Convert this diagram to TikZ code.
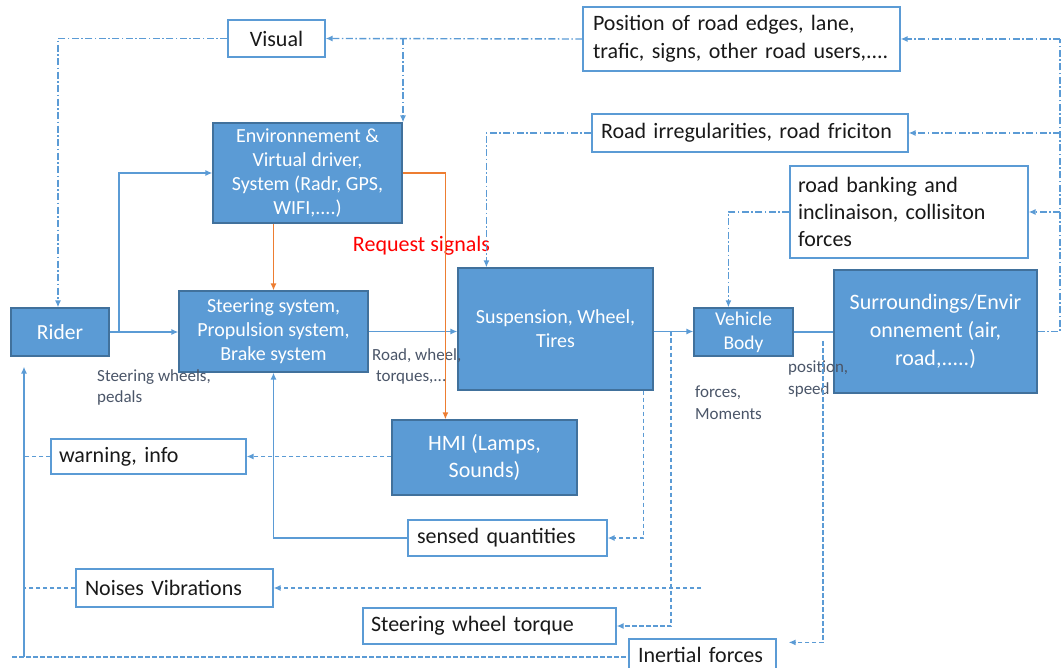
\documentclass[tikz,border=0pt]{standalone}
\usepackage{fontspec}
\setmainfont{Carlito}
\usetikzlibrary{arrows.meta,calc}
\definecolor{lb}{HTML}{5B9BD5}
\definecolor{db}{HTML}{41719C}
\definecolor{org}{HTML}{ED7D31}
\definecolor{gr}{HTML}{4A5568}
\newcommand\fW{\fontsize{22}{28}\selectfont}
\newcommand\fB{\fontsize{20}{24}\selectfont}
\newcommand\fS{\fontsize{17}{21.5}\selectfont}
\begin{document}
\begin{tikzpicture}[x=1pt,y=-1pt,
  bbox/.style={rectangle, fill=lb, draw=db, line width=1.2pt, text=white, align=center, inner sep=0pt, font=\fB},
  wbox/.style={rectangle, fill=white, draw=lb, line width=1.2pt, text=black!90, align=left, inner ysep=0pt, font=\fW},
  ln/.style={draw=lb, line width=1.4pt},
  dd/.style={ln, dash pattern=on 7pt off 2.5pt on 1.5pt off 2.5pt},
  ds/.style={ln, dash pattern=on 4.5pt off 2.5pt},
  og/.style={draw=org, line width=1.4pt},
  arr/.style={-{Latex[length=7pt,width=6pt]}},
  lbl/.style={text=gr, align=left, anchor=west, inner sep=0pt, font=\fS}
]
\useasboundingbox (0,0) rectangle (1063,668);
\clip (0,0) rectangle (1063,668);

% blue boxes
\node[bbox, minimum width=189, minimum height=100] (env) at (307.5,173) {Environnement \&\\Virtual driver,\\System (Radr, GPS,\\WIFI,....)};
\node[bbox, minimum width=189, minimum height=81] (steer) at (273.5,331.5) {Steering system,\\Propulsion system,\\Brake system};
\node[bbox, minimum width=98, minimum height=48, font=\fontsize{21.5}{26}\selectfont] (rider) at (60,332) {Rider};
\node[bbox, minimum width=195, minimum height=122] (susp) at (555.5,329) {Suspension, Wheel,\\Tires};
\node[bbox, minimum width=99, minimum height=48, font=\fontsize{19.5}{24}\selectfont] (vbody) at (743.5,332) {Vehicle\\Body};
\node[bbox, minimum width=203, minimum height=123, font=\fontsize{22}{28}\selectfont] (surr) at (935.5,331.5) {Surroundings/Envir\\onnement (air,\\road,.....)};
\node[bbox, minimum width=185, minimum height=75, font=\fontsize{22}{27}\selectfont] (hmi) at (484.5,457.5) {HMI (Lamps,\\Sounds)};

% white boxes
\node[wbox, align=center, inner xsep=0pt, minimum width=97, minimum height=37] (visual) at (276.5,38.5) {Visual};
\node[wbox, inner xsep=10pt, text width=297pt, minimum height=64] (position) at (741.5,39) {Position of road edges, lane,\\trafic, signs, other road users,....};
\node[wbox, inner xsep=9pt, text width=298pt, minimum height=38] (roadirr) at (750,133) {Road irregularities, road friciton};
\node[wbox, inner xsep=8pt, text width=222pt, minimum height=92, font=\fontsize{22}{27}\selectfont] (banking) at (909,212) {road banking and\\inclinaison, collisiton\\forces};
\node[wbox, inner xsep=8pt, text width=179pt, minimum height=35] (warning) at (148.5,456.5) {warning, info};
\node[wbox, inner xsep=9pt, text width=181pt, minimum height=36] (sensed) at (507.5,538) {sensed quantities};
\node[wbox, inner xsep=9pt, text width=179pt, minimum height=38] (noises) at (174.5,588) {Noises Vibrations};
\node[wbox, inner xsep=8pt, text width=237pt, minimum height=36] (swt) at (489.5,626) {Steering wheel torque};
\node[wbox, inner xsep=9pt, text width=129pt, minimum height=32] (inertial) at (702.5,655) {Inertial forces};

% labels
\node[lbl] (l1) at (97,387.5) {Steering wheels,\\pedals};
\node[lbl] (l2) at (372,366.5) {Road, wheel,\\\ torques,...};
\node[lbl] (l3) at (695,402.5) {forces,\\Moments};
\node[lbl] (l4) at (788,379) {position,\\speed};
\node[text=red, font=\fontsize{22}{26}\selectfont, inner sep=0pt] (req) at (421.5,246) {Request signals};

% coordinates
\coordinate (rt) at (1060,39);
\coordinate (vbr) at (403,38.5);
\coordinate (rb) at (119,332);
\coordinate (sb) at (671,331.5);
\coordinate (lx) at (24,657);
\coordinate (bl) at (12,657);
\coordinate (nv) at (701,588);
\coordinate (pv) at (823,341);

% dash-dot feedback lines
\draw[dd,arr] (position.west) -- (visual.east);
\draw[dd,arr] (vbr) -- (vbr |- env.north);
\draw[dd,arr] (visual.west) -| ($(rider.north)+(-2,0)$);
\draw[dd] (surr.east) -| (rt);
\draw[dd,arr] (rt) -- (position.east);
\draw[dd,arr] (roadirr.east -| rt) -- (roadirr.east);
\draw[dd,arr] (banking.east -| rt) -- (banking.east);
\draw[dd,arr] (roadirr.west) -| ($(susp.north west)+(29,0)$);
\draw[dd,arr] (banking.west) -| ($(vbody.north west)+(35,0)$);

% solid forward lines
\draw[ln,arr] (rider.east) -- (steer.west |- rider.east);
\draw[ln,arr] (rb) |- (env.west);
\draw[ln,arr] (steer.east) -- (steer.east -| susp.west);
\draw[ln,arr] (steer.east -| susp.east) -- (steer.east -| vbody.west);
\draw[ln] (vbody.east) -- (vbody.east -| surr.west);
\draw[ln,arr] (sensed.west) -| (steer.south);
\draw[ln,arr,shorten >=10pt] (lx) -- (lx |- rider.south);

% dashed lines
\draw[ds,arr] (sb) |- (swt.east);
\draw[ds,arr] ($(susp.south east)+(-10,0)$) |- (sensed.east);
\draw[ds,arr] (hmi.west |- warning.east) -- (warning.east);
\draw[ds] (warning.west) -- (warning.west -| lx);
\draw[ds] (noises.west) -- (noises.west -| lx);
\draw[ds,arr] (nv) -- (noises.east);
\draw[ds] (bl) -- (bl -| inertial.west);
\draw[ds,arr,shorten >=12pt] (pv) |- ($(inertial.north east)+(0,4)$);

% orange request lines
\draw[og,arr] (steer.north |- env.south) -- (steer.north);
\draw[og,arr] (env.east) -| ($(hmi.north west)+(54,0)$);
\end{tikzpicture}
\end{document}
